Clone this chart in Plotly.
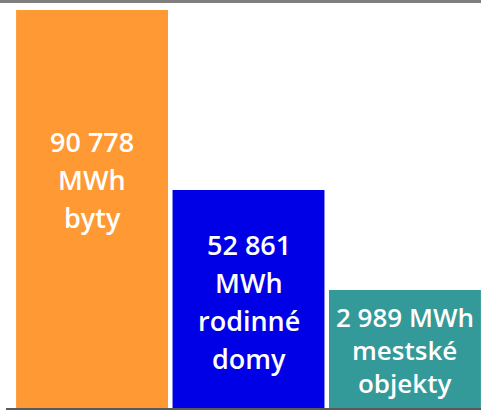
import plotly.graph_objects as go

# Data
categories = ["byty", "rodinné domy", "mestské objekty"]
energy_mwh = [90778, 52861, 2989]          # values printed on the bars
bar_heights = [90778, 49700, 26900]         # drawn bar heights
label_lines = [
    ["90 778", "MWh", "byty"],
    ["52 861", "MWh", "rodinné", "domy"],
    ["2 989 MWh", "mestské", "objekty"],
]
colors = ["#FF9933", "#0000E6", "#339999"]

# text placement styles (fraction of bar height for text block centre, line spacing px)
text_center_frac = [0.575, 0.49, 0.49]
line_spacing = [38, 38, 33]
font_sizes = [27, 27, 26]

W, H = 481, 410
fig = go.Figure()
fig.add_trace(go.Bar(
    x=list(range(len(categories))), y=bar_heights,
    marker=dict(color=colors, line=dict(width=0)),
    width=0.971, hoverinfo="skip",
))

annotations = []
for i, lines in enumerate(label_lines):
    n = len(lines)
    yc = bar_heights[i] * text_center_frac[i]
    for j, t in enumerate(lines):
        annotations.append(dict(
            x=i, y=yc, xref="x", yref="y", text=t, showarrow=False,
            yshift=((n - 1) / 2 - j) * line_spacing[i],
            font=dict(family="Open Sans", size=font_sizes[i], color="white", weight=600),
            xanchor="center", yanchor="middle",
        ))

plot_h = 408
ymax = 90778 * plot_h / 398
fig.update_layout(
    width=W, height=H,
    margin=dict(l=6, r=0, t=0, b=2),
    paper_bgcolor="white", plot_bgcolor="white",
    showlegend=False,
    xaxis=dict(range=[-0.55, 2.486], showticklabels=False, showgrid=False,
               zeroline=False, showline=True, linecolor="#595959", linewidth=4,
               fixedrange=True),
    yaxis=dict(range=[0, ymax], showticklabels=False, showgrid=False,
               zeroline=False, showline=False, fixedrange=True),
    annotations=annotations,
    shapes=[dict(type="rect", xref="paper", yref="paper",
                 x0=-0.02, x1=1.01, y0=1 - 3 / plot_h, y1=1.0,
                 fillcolor="#7F7F7F", line=dict(width=0), layer="above")],
)
fig.write_html("out.html", config={"displayModeBar": False},
               post_script="document.body.style.margin='0';document.body.style.overflow='hidden';")
